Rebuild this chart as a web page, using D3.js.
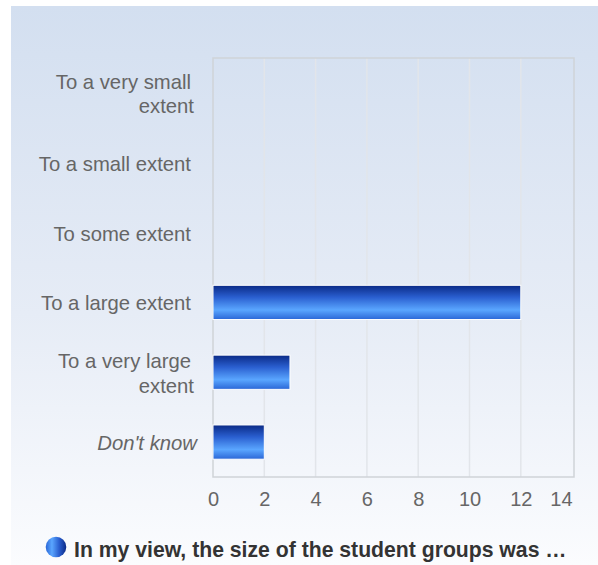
<!DOCTYPE html>
<html><head><meta charset="utf-8">
<script src="https://cdn.jsdelivr.net/npm/d3@7"></script>
<style>html,body{margin:0;padding:0;background:#fff;}svg{display:block;}</style>
</head><body>
<script>
const categories = [["To a very small", "extent"], ["To a small extent"], ["To some extent"], ["To a large extent"], ["To a very large", "extent"], ["Don't know"]];
const categoryKeys = ["vsmall", "small", "some", "large", "vlarge", "dk"];
const values = [0, 0, 0, 12, 3, 2];
const tickValues = [0, 2, 4, 6, 8, 10, 12, 14];
const legendLabel = "In my view, the size of the student groups was …";

(function () {
const W = 598, H = 565;
const svg = d3.select("body").append("svg").attr("width", W).attr("height", H);
const defs = svg.append("defs");

const bg = defs.append("linearGradient").attr("id", "bg").attr("x1", 0).attr("y1", 0).attr("x2", 0).attr("y2", 1);
bg.append("stop").attr("offset", "0%").attr("stop-color", "#d3dff0");
bg.append("stop").attr("offset", "55%").attr("stop-color", "#e6ecf6");
bg.append("stop").attr("offset", "100%").attr("stop-color", "#fbfcfe");

const bar = defs.append("linearGradient").attr("id", "bar").attr("x1", 0).attr("y1", 0).attr("x2", 0).attr("y2", 1);
bar.append("stop").attr("offset", "0%").attr("stop-color", "#0a2a86");
bar.append("stop").attr("offset", "35%").attr("stop-color", "#2a5fd0");
bar.append("stop").attr("offset", "72%").attr("stop-color", "#5aa6ff");
bar.append("stop").attr("offset", "100%").attr("stop-color", "#2a66d6");

const dot = defs.append("linearGradient").attr("id", "dot").attr("x1", 0).attr("y1", 0).attr("x2", 1).attr("y2", 0);
dot.append("stop").attr("offset", "0%").attr("stop-color", "#2a66d6");
dot.append("stop").attr("offset", "30%").attr("stop-color", "#5aa6ff");
dot.append("stop").attr("offset", "65%").attr("stop-color", "#2a5fd0");
dot.append("stop").attr("offset", "100%").attr("stop-color", "#0a2a86");

svg.append("rect").attr("x", 11).attr("y", 6).attr("width", W - 11).attr("height", H - 6).attr("fill", "url(#bg)");

const pl = 213, pr = 574, pt = 58, pb = 477;
const x = d3.scaleLinear().domain([0, 14]).range([pl, pl + 7 * 51.3]);
const y = d3.scaleBand().domain(categoryKeys).range([pt, pb]).paddingInner(0.51).paddingOuter(0.255);

// gridlines
svg.append("g").selectAll("line").data(tickValues.filter(t => t > 0 && t < 14)).join("line")
  .attr("x1", d => x(d)).attr("x2", d => x(d)).attr("y1", pt).attr("y2", pb)
  .attr("stroke", "#e2e5ea").attr("stroke-width", 1.5);

// frame
svg.append("rect").attr("x", pl).attr("y", pt).attr("width", pr - pl).attr("height", pb - pt)
  .attr("fill", "none").attr("stroke", "#cfd3d8").attr("stroke-width", 1.5);

// bars
const barData = values.map((v, i) => ({ k: categoryKeys[i], v })).filter(d => d.v > 0);
svg.append("g").selectAll("rect").data(barData).join("rect")
  .attr("x", x(0)).attr("y", d => y(d.k)).attr("width", d => x(d.v) - x(0)).attr("height", y.bandwidth())
  .attr("fill", "url(#bar)").attr("stroke", "#fff").attr("stroke-width", 1);

// x axis
const xAxis = d3.axisBottom(x).tickValues(tickValues).tickSize(0).tickPadding(0);
const gx = svg.append("g").attr("transform", `translate(0,${pb})`).call(xAxis);
gx.select(".domain").remove();
gx.selectAll("text").attr("font-family", "Liberation Sans, Arial, sans-serif").attr("font-size", 20)
  .attr("fill", "#666").attr("dy", null).attr("y", 29);
gx.selectAll("text").filter(d => d === 14).attr("text-anchor", "end").attr("x", 0);

// y axis labels
const yAxis = d3.axisLeft(y).tickSize(0).tickFormat(() => "");
const gy = svg.append("g").attr("transform", `translate(${pl},0)`).call(yAxis);
gy.select(".domain").remove();
gy.selectAll(".tick").each(function (d, i) {
  const lines = categories[i];
  const t = d3.select(this).select("text").text(null)
    .attr("font-family", "Liberation Sans, Arial, sans-serif").attr("font-size", 20.3).attr("fill", "#666")
    .attr("text-anchor", "end").attr("x", 0).attr("dy", null).attr("y", 0)
    .style("font-style", categoryKeys[i] === "dk" ? "italic" : "normal");
  const n = lines.length;
  lines.forEach((ln, j) => {
    t.append("tspan").attr("x", (n > 1 && j === n - 1) ? -19 : (categoryKeys[i] === "dk" ? -16 : -22))
      .attr("y", (j - (n - 1) / 2) * 24.5 + 8).text(ln);
  });
});

// legend
svg.append("circle").attr("cx", 56).attr("cy", 547).attr("r", 10.3).attr("fill", "url(#dot)");
svg.append("text").attr("x", 74).attr("y", 556.5).attr("font-family", "Liberation Sans, Arial, sans-serif")
  .attr("font-weight", "bold").attr("font-size", 21.2).attr("fill", "#333").text(legendLabel);
})();
</script>
</body></html>
